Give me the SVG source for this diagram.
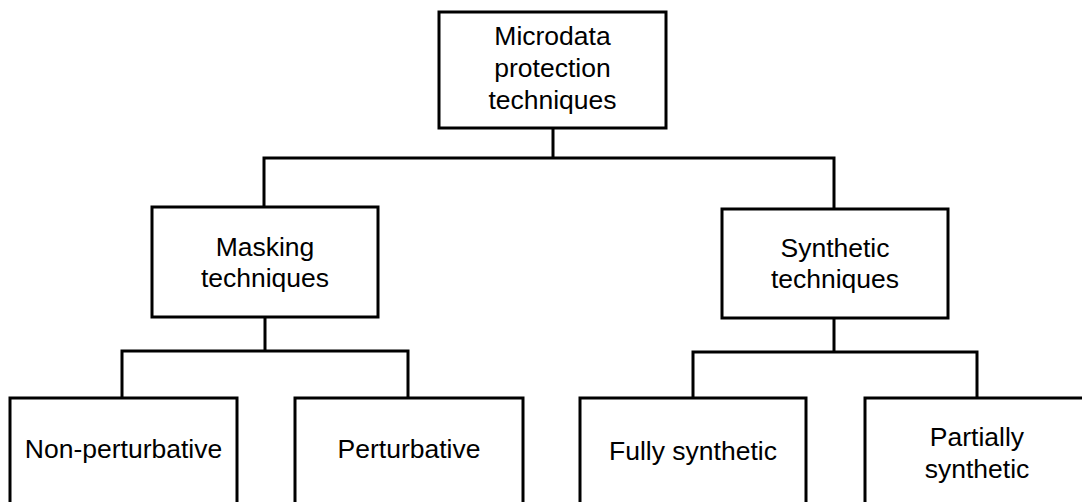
<svg xmlns="http://www.w3.org/2000/svg" width="1082" height="502" viewBox="0 0 1082 502">
<style>
.box{fill:#fff;stroke:#000;stroke-width:3}
.conn{fill:none;stroke:#000;stroke-width:3}
text{font-family:"Liberation Sans",Arial,sans-serif;font-size:26.5px;fill:#000;text-anchor:middle}
</style>
<rect width="1082" height="502" fill="#fff"/>
<g id="connectors">
<path class="conn" d="M553 128V158M264 207V158H834V209"/>
<path class="conn" d="M265 317V351M122 398V351H408V398"/>
<path class="conn" d="M834 318V352M693 398V352H977V398"/>
</g>
<g id="n-root"><rect class="box" x="439" y="12" width="227" height="116"/>
<text x="552.5" y="45">Microdata</text><text x="552.5" y="77">protection</text><text x="552.5" y="109">techniques</text></g>
<g id="n-masking"><rect class="box" x="152" y="207" width="226" height="110"/>
<text x="265" y="256">Masking</text><text x="265" y="287">techniques</text></g>
<g id="n-synthetic"><rect class="box" x="722" y="209" width="226" height="109"/>
<text x="835" y="257">Synthetic</text><text x="835" y="288">techniques</text></g>
<g id="n-nonpert"><rect class="box" x="10" y="398" width="227" height="120"/>
<text x="123.5" y="458">Non-perturbative</text></g>
<g id="n-pert"><rect class="box" x="295" y="398" width="228" height="120"/>
<text x="409" y="458">Perturbative</text></g>
<g id="n-fully"><rect class="box" x="580" y="398" width="226" height="120"/>
<text x="693" y="460">Fully synthetic</text></g>
<g id="n-partial"><rect class="box" x="865" y="398" width="240" height="120"/>
<text x="977" y="446">Partially</text><text x="977" y="478">synthetic</text></g>
</svg>
